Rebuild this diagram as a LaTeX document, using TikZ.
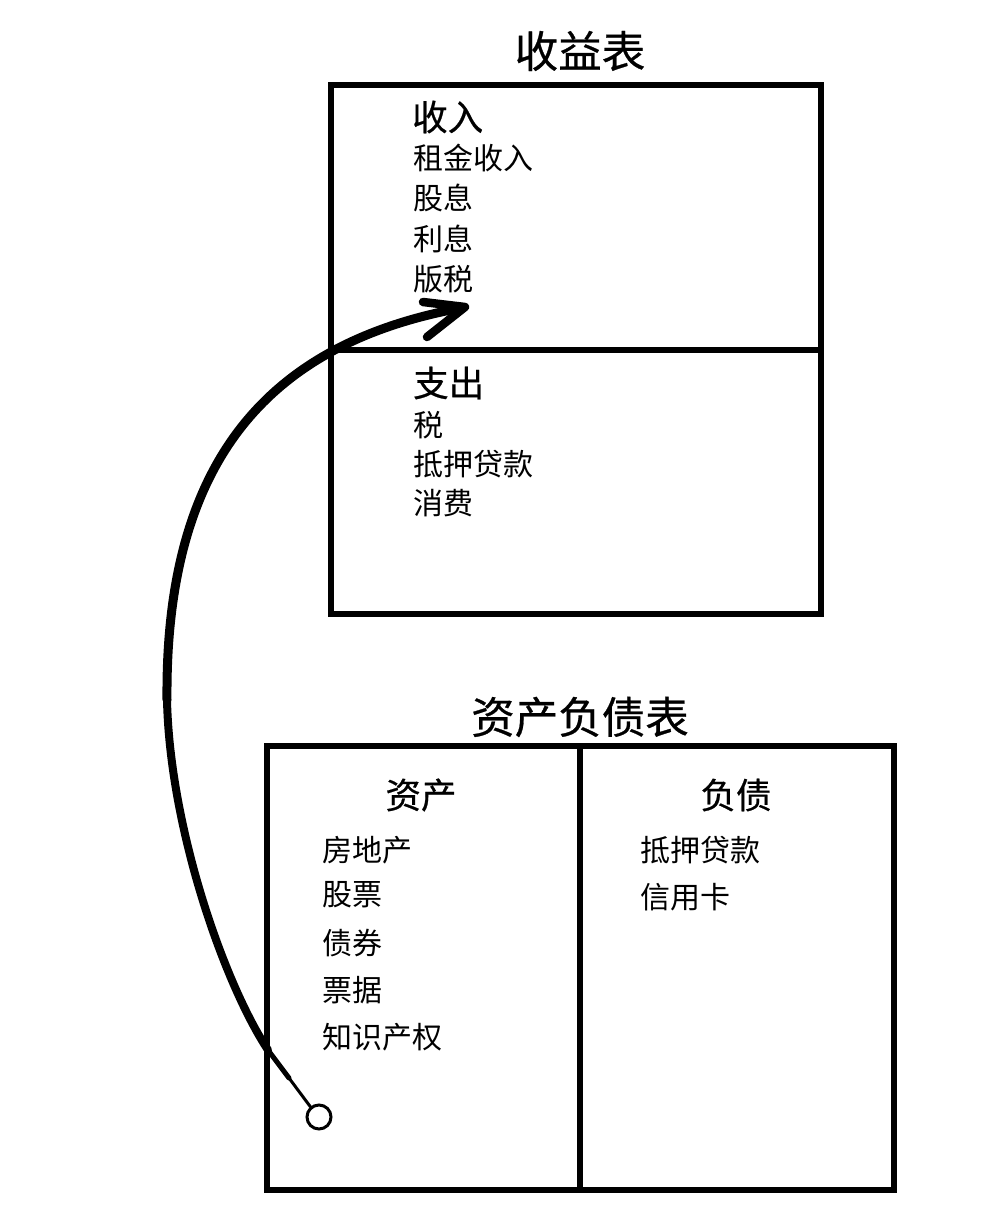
\documentclass[tikz,border=0pt]{standalone}
\usepackage{fontspec}
\newfontfamily\cjk{Noto Sans CJK SC}
\newfontfamily\cjkm[FakeBold=0.6]{Noto Sans CJK SC}
\begin{document}
\begin{tikzpicture}[x=1pt,y=-1pt,
  frame/.style={draw=black,line width=6pt},
  titletext/.style={font=\cjkm\fontsize{43.5}{50}\selectfont,inner sep=0pt},
  headtext/.style={font=\cjkm\fontsize{35.5}{40}\selectfont,inner sep=0pt},
  itemtext/.style={font=\cjk\fontsize{30}{34}\selectfont,inner sep=0pt,anchor=west},
  shaft/.style={line width=9pt,line cap=round},
  barb/.style={line width=8.5pt,line cap=round,line join=round}]
\fill[white] (0,0) rectangle (1000,1224);
\useasboundingbox (0,0) rectangle (1000,1224);

% Income statement
\node[titletext] (inctitle) at (580,51) {收益表};
\node[frame,minimum width=490pt,minimum height=529pt,inner sep=0pt] (inc) at (576,349.5) {};
\draw[frame] (inc.west |- {(0,350)}) -- (inc.east |- {(0,350)});
\node[headtext,anchor=west] (income) at (412,117) {收入};
\node[itemtext] (i1) at (413,158) {租金收入};
\node[itemtext] (i2) at (413,198) {股息};
\node[itemtext] (i3) at (413,239) {利息};
\node[itemtext] (i4) at (413,279) {版税};
\node[headtext,anchor=west] (expense) at (413,383) {支出};
\node[itemtext] (e1) at (413,425) {税};
\node[itemtext] (e2) at (413,464) {抵押贷款};
\node[itemtext] (e3) at (413,503) {消费};

% Balance sheet
\node[titletext] (baltitle) at (580,717) {资产负债表};
\node[frame,minimum width=627pt,minimum height=444pt,inner sep=0pt] (bal) at (580.5,968) {};
\draw[frame] (580,746) -- (580,1190);
\node[headtext] (assets) at (421,795) {资产};
\node[headtext] (liab) at (736,795) {负债};
\node[itemtext] (a1) at (322,850) {房地产};
\node[itemtext] (a2) at (322,895) {股票};
\node[itemtext] (a3) at (322,943) {债券};
\node[itemtext] (a4) at (322,990) {票据};
\node[itemtext] (a5) at (322,1037) {知识产权};
\node[itemtext] (l1) at (640,850) {抵押贷款};
\node[itemtext] (l2) at (640,897) {信用卡};

% Arrow
\node[draw,circle,line width=3pt,minimum size=24pt,inner sep=0pt] (start) at (319,1117) {};
\coordinate (k0) at (289,1078);
\coordinate (k1) at (268,1050);
\coordinate (k2) at (167,700);
\coordinate (tip) at (465,307);
\draw[line width=3pt,line cap=round] (start.130) -- (k0);
\draw[line width=5pt,line cap=round] (k0) -- (k1);
\draw[line width=8pt,line cap=round] (k1) .. controls (225,985) and (170,830) .. (k2);
\draw[shaft] (k2) .. controls (165,470) and (260,345) .. ([shift={(-4,1)}]tip);
\draw[barb] ([shift={(-42,-5)}]tip) -- (tip) -- ([shift={(-38,30)}]tip);
\end{tikzpicture}
\end{document}
